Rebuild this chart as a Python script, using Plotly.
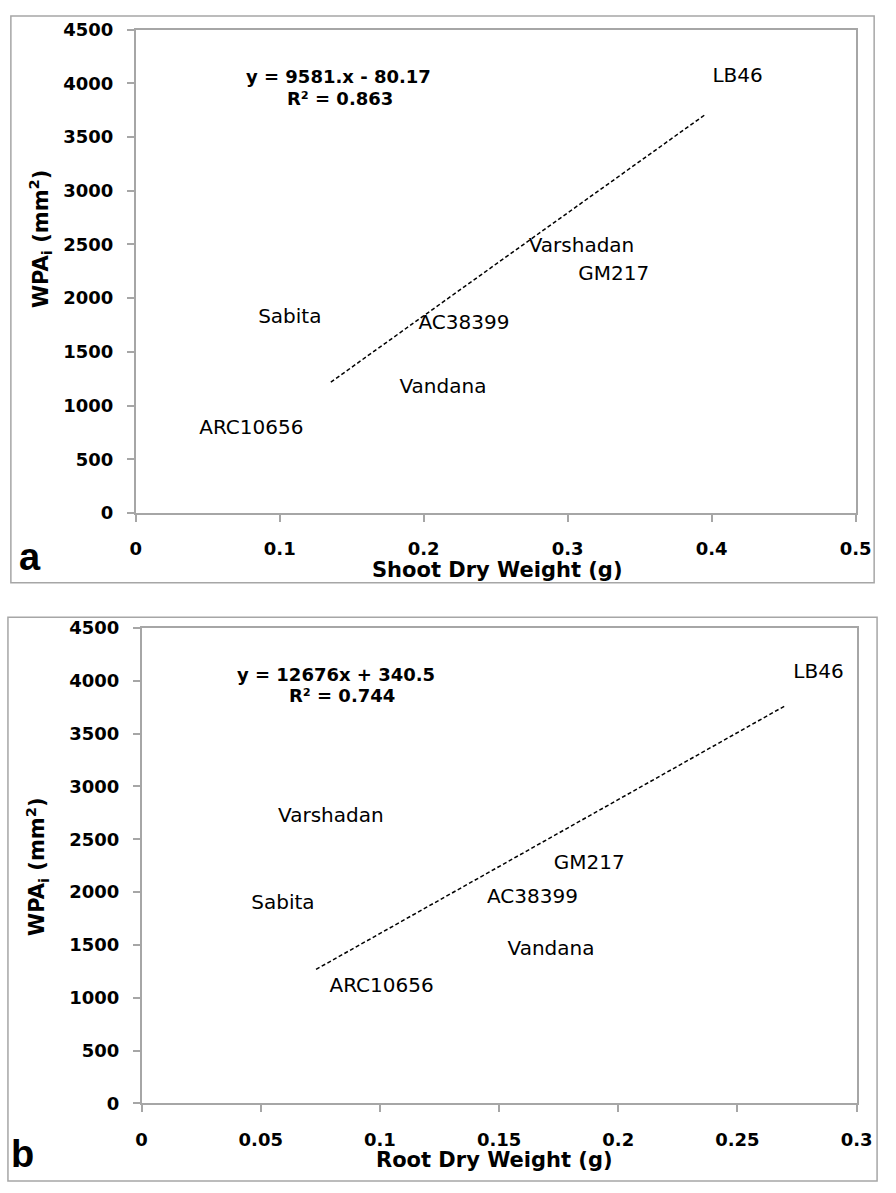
import plotly.graph_objects as go

W, H = 896, 1193

# Panel a: shoot dry weight vs WPAi (label positions)
genotypes_a = ["LB46", "Varshadan", "GM217", "Sabita", "AC38399", "Vandana", "ARC10656"]
shoot_dw = [0.418, 0.3096, 0.332, 0.107, 0.228, 0.2134, 0.0803]
wpa_a = [4059, 2477, 2212, 1819, 1764, 1161, 786]
trend_a_x = [0.1355, 0.396]
slope_a, icpt_a = 9581.0, -80.17

# Panel b: root dry weight vs WPAi
genotypes_b = ["LB46", "Varshadan", "GM217", "AC38399", "Sabita", "Vandana", "ARC10656"]
root_dw = [0.284, 0.0794, 0.1878, 0.164, 0.0593, 0.1718, 0.1007]
wpa_b = [4071, 2714, 2268, 1942, 1887, 1450, 1106]
trend_b_x = [0.0732, 0.270]
slope_b, icpt_b = 12676.0, 340.5

y_ticks = [0, 500, 1000, 1500, 2000, 2500, 3000, 3500, 4000, 4500]
xa_ticks = [0, 0.1, 0.2, 0.3, 0.4, 0.5]
xb_ticks = [0, 0.05, 0.1, 0.15, 0.2, 0.25, 0.3]

FONT = "DejaVu Sans"
GRAY = "#a6a6a6"

def px_x(p):
    return p / W

def px_y(p):
    return 1 - p / H

fig = go.Figure()

label_font = dict(family=FONT, size=20, color="black")
fig.add_trace(go.Scatter(x=shoot_dw, y=wpa_a, mode="text", text=genotypes_a,
                         textposition="middle center", textfont=label_font,
                         xaxis="x", yaxis="y", showlegend=False, hoverinfo="skip"))
fig.add_trace(go.Scatter(x=trend_a_x, y=[slope_a * v + icpt_a for v in trend_a_x],
                         mode="lines", line=dict(color="black", width=1.5, dash="4px,2.5px"),
                         xaxis="x", yaxis="y", showlegend=False, hoverinfo="skip"))
fig.add_trace(go.Scatter(x=root_dw, y=wpa_b, mode="text", text=genotypes_b,
                         textposition="middle center", textfont=label_font,
                         xaxis="x2", yaxis="y2", showlegend=False, hoverinfo="skip"))
fig.add_trace(go.Scatter(x=trend_b_x, y=[slope_b * v + icpt_b for v in trend_b_x],
                         mode="lines", line=dict(color="black", width=1.5, dash="4px,2.5px"),
                         xaxis="x2", yaxis="y2", showlegend=False, hoverinfo="skip"))

tick_font = dict(family=FONT, size=18, color="black", weight="bold")
common = dict(showgrid=False, zeroline=False, showline=True, linecolor=GRAY, linewidth=1.5,
              mirror=True, ticks="outside", ticklen=7, tickcolor=GRAY, tickwidth=1.5,
              tickfont=tick_font, fixedrange=True)

fig.update_layout(
    width=W, height=H, margin=dict(l=0, r=0, t=0, b=0),
    paper_bgcolor="white", plot_bgcolor="white",
    xaxis=dict(domain=[px_x(133), px_x(871)], range=[0, 0.5], tickvals=xa_ticks,
               ticktext=["0", "0.1", "0.2", "0.3", "0.4", "0.5"], anchor="y",
               ticklabelstandoff=12, **common),
    yaxis=dict(domain=[px_y(511), px_y(19)], range=[0, 4500], tickvals=y_ticks,
               anchor="x", ticklabelstandoff=10, **common),
    xaxis2=dict(domain=[px_x(139), px_x(872)], range=[0, 0.3], tickvals=xb_ticks,
                ticktext=["0", "0.05", "0.1", "0.15", "0.2", "0.25", "0.3"], anchor="y2",
                ticklabelstandoff=12, **common),
    yaxis2=dict(domain=[px_y(1112), px_y(628)], range=[0, 4500], tickvals=y_ticks,
                anchor="x2", ticklabelstandoff=10, **common),
)

# outer panel frames
fig.add_shape(type="rect", xref="paper", yref="paper",
              x0=px_x(5), x1=px_x(890), y0=px_y(582), y1=px_y(5),
              line=dict(color=GRAY, width=1.5), layer="below")
fig.add_shape(type="rect", xref="paper", yref="paper",
              x0=px_x(2), x1=px_x(893), y0=px_y(1191), y1=px_y(617),
              line=dict(color=GRAY, width=1.5), layer="below")

def ann(text, x, y, size, bold=True, angle=0, family=FONT):
    f = dict(family=family, size=size, color="black")
    if bold:
        f["weight"] = "bold"
    fig.add_annotation(text=text, xref="paper", yref="paper", x=px_x(x), y=px_y(y),
                       xanchor="center", yanchor="middle", showarrow=False,
                       textangle=angle, font=f)

# regression equations
ann("y = 9581.x - 80.17", 341, 67, 18)
ann("R² = 0.863", 342, 89, 18)
ann("y = 12676x + 340.5", 338, 675, 18)
ann("R² = 0.744", 344, 697, 18)

# axis titles
ann("Shoot Dry Weight (g)", 503, 569, 21)
ann("Root Dry Weight (g)", 501, 1170, 21)
ann("WPA<sub>i</sub> (mm<sup>2</sup>)", 35, 232, 21, angle=-90)
ann("WPA<sub>i</sub> (mm<sup>2</sup>)", 31, 871, 21, angle=-90)

# panel letters
ann("a", 25, 556, 38, family="Liberation Sans")
ann("b", 17, 1163, 38, family="Liberation Sans")

fig.write_html(
    "out.html",
    config={"displayModeBar": False},
    post_script="document.body.style.margin='0';document.body.style.padding='0';"
                "document.documentElement.style.overflow='hidden';",
)
